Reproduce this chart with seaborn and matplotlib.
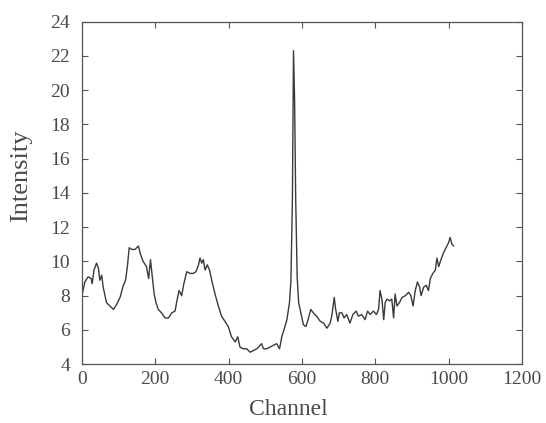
import matplotlib
matplotlib.use("Agg")
import matplotlib.pyplot as plt
import seaborn as sns
import pandas as pd

# spectrum
channel = [0, 8, 17, 25, 28, 33, 40, 45, 49, 54, 58, 67, 76, 86, 95, 104, 113, 119,
           124, 129, 136, 145, 154, 160, 167, 176, 182, 187, 192, 197, 202, 208, 217,
           227, 236, 245, 254, 260, 265, 272, 278, 286, 295, 304, 311, 318, 322, 327,
           331, 336, 342, 348, 354, 363, 372, 381, 390, 399, 408, 418, 425, 431, 440,
           449, 459, 468, 477, 490, 495, 504, 513, 522, 531, 539, 545, 551, 559, 566,
           570, 574, 577, 580, 583, 587, 591, 597, 604, 611, 618, 624, 631, 640, 650,
           659, 668, 677, 682, 688, 692, 698, 702, 709, 715, 722, 731, 739, 748, 754,
           763, 772, 779, 786, 795, 803, 809, 813, 818, 823, 827, 832, 839, 845, 850,
           854, 859, 866, 873, 882, 891, 897, 903, 909, 915, 921, 925, 932, 939, 945,
           950, 957, 964, 968, 973, 979, 986, 993, 1000, 1004, 1009, 1014]
intensity = [8.0, 8.8, 9.1, 9.0, 8.7, 9.5, 9.9, 9.6, 8.9, 9.2, 8.5, 7.6, 7.4, 7.2, 7.5,
             7.9, 8.6, 8.9, 9.7, 10.8, 10.7, 10.7, 10.9, 10.4, 10.0, 9.7, 9.0, 10.1, 9.1,
             8.1, 7.6, 7.2, 7.0, 6.7, 6.7, 7.0, 7.1, 7.8, 8.3, 8.0, 8.7, 9.4, 9.3, 9.3,
             9.4, 9.8, 10.2, 9.9, 10.1, 9.5, 9.8, 9.5, 8.9, 8.1, 7.4, 6.8, 6.5, 6.2, 5.6,
             5.3, 5.6, 5.0, 4.9, 4.9, 4.7, 4.8, 4.9, 5.2, 4.9, 4.9, 5.0, 5.1, 5.2, 4.9,
             5.6, 6.0, 6.6, 7.6, 8.9, 13.6, 22.3, 19.4, 13.6, 9.1, 7.6, 7.0, 6.3, 6.2,
             6.7, 7.2, 7.0, 6.8, 6.5, 6.4, 6.1, 6.4, 6.9, 7.9, 7.2, 6.5, 7.0, 7.0, 6.7,
             6.9, 6.4, 6.9, 7.1, 6.8, 6.9, 6.6, 7.1, 6.9, 7.1, 6.9, 7.2, 8.3, 7.8, 6.6,
             7.6, 7.8, 7.7, 7.8, 6.7, 8.1, 7.4, 7.6, 7.9, 8.0, 8.2, 8.0, 7.4, 8.3, 8.8,
             8.5, 8.0, 8.5, 8.6, 8.3, 9.0, 9.3, 9.5, 10.2, 9.7, 10.1, 10.5, 10.8, 11.1,
             11.4, 11.0, 10.9]

x_ticks = [0, 200, 400, 600, 800, 1000, 1200]
y_ticks = [4, 6, 8, 10, 12, 14, 16, 18, 20, 22, 24]

df = pd.DataFrame({"Channel": channel, "Intensity": intensity})

sns.set_style("ticks")
plt.rcParams["font.family"] = ["Liberation Serif", "DejaVu Serif"]

fig = plt.figure(figsize=(5.46, 4.23), dpi=100)
ax = fig.add_axes([0.150, 0.139, 0.806, 0.810])
sns.lineplot(data=df, x="Channel", y="Intensity", ax=ax, color="#3a3a3a", linewidth=1.0)

ax.set_xlim(0, 1200)
ax.set_ylim(4, 24)
ax.set_xticks(x_ticks)
ax.set_yticks(y_ticks)
ax.tick_params(direction="in", length=4, width=0.8, color="#555555",
               labelsize=14, labelcolor="#4a4a4a", top=True, right=True)
ax.tick_params(axis="x", pad=5)
ax.tick_params(axis="y", pad=8.5)
for s in ax.spines.values():
    s.set_color("#555555")
    s.set_linewidth(0.9)
ax.set_xlabel("Channel", fontsize=17, color="#4a4a4a")
ax.set_ylabel("Intensity", fontsize=19, color="#4a4a4a")
ax.xaxis.set_label_coords(0.470, -0.103)
ax.yaxis.set_label_coords(-0.114, 0.55)

fig.savefig("out.png", dpi=100)
